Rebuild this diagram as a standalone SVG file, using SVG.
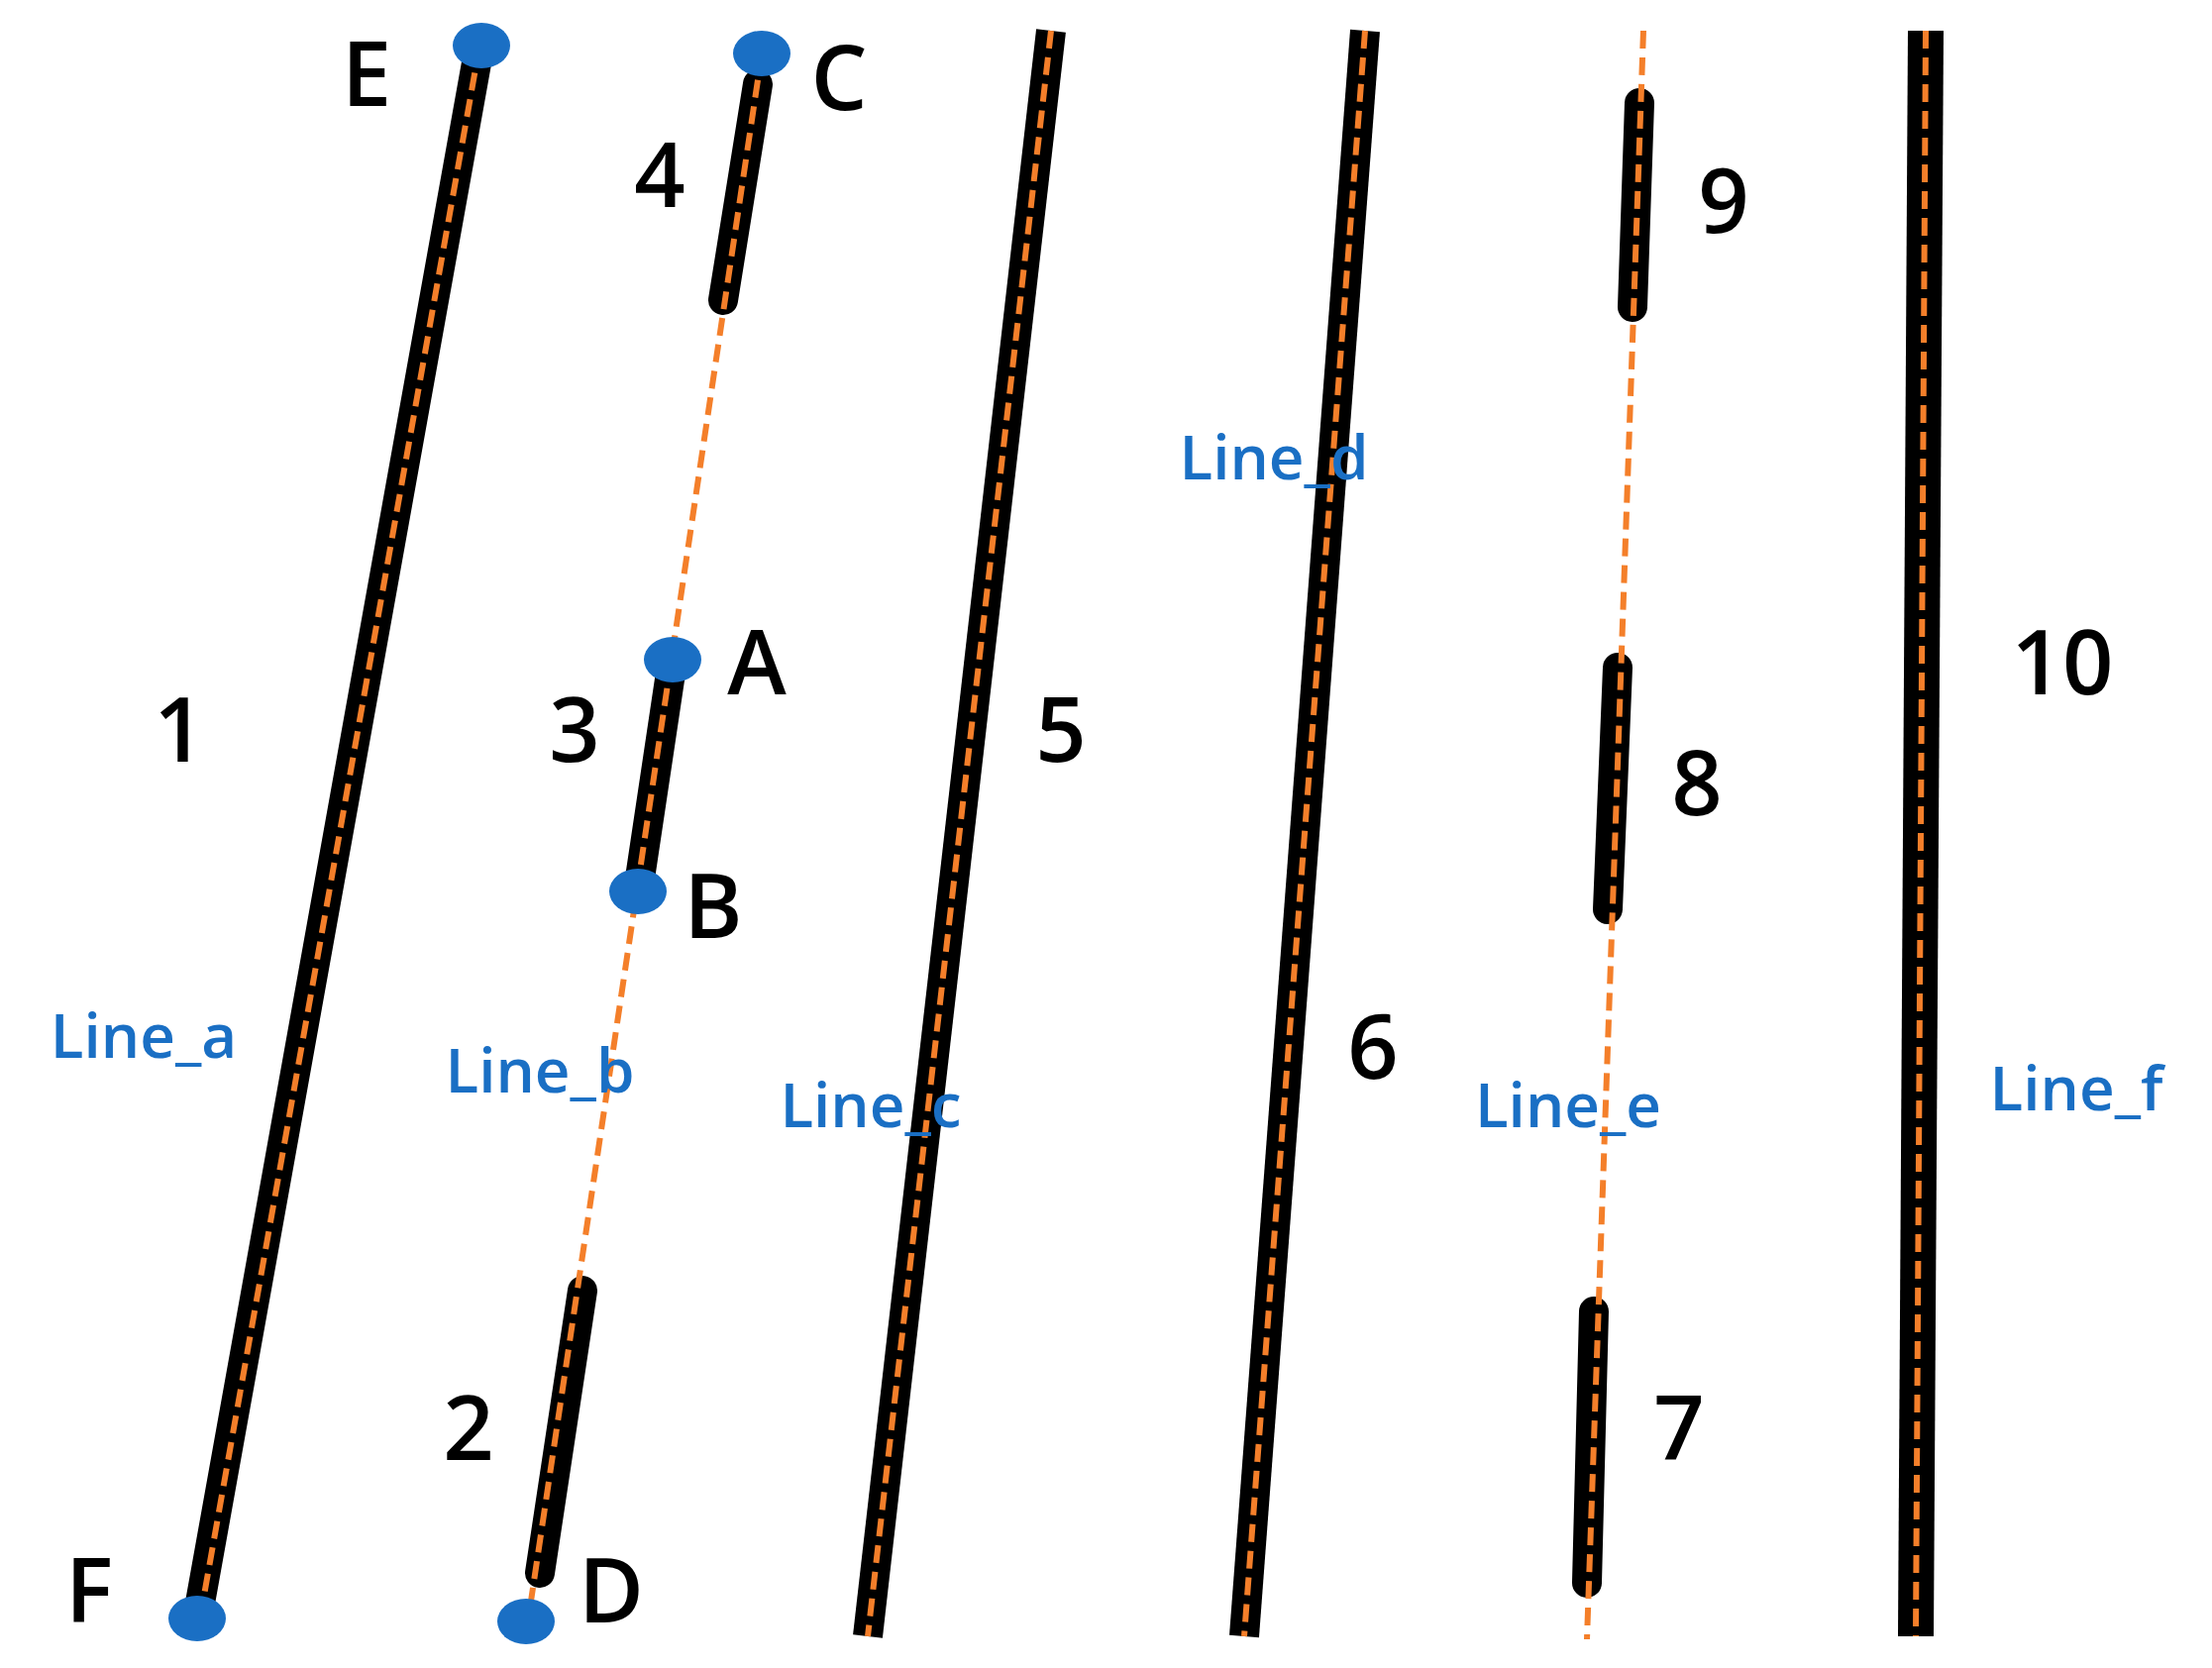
<svg xmlns="http://www.w3.org/2000/svg" width="2233" height="1684" viewBox="0 0 2233 1684">
<style>
.seg{stroke:#000;stroke-width:30;stroke-linecap:round;fill:none}
.d{stroke:#f47f2a;stroke-width:6;stroke-dasharray:18 9;fill:none}
.pt{fill:#1a6fc4}
.n{font-family:"Open Sans","Liberation Sans",sans-serif;font-size:90px;font-weight:600;fill:#000;text-anchor:middle}
.l{font-family:"Open Sans","Liberation Sans",sans-serif;font-size:62px;font-weight:600;fill:#1a6fc4;text-anchor:middle}
</style>
<rect width="2233" height="1684" fill="#fff"/>
<g id="connectors">
<line class="seg" x1="484" y1="47" x2="199" y2="1635"/>
<line class="d" x1="484" y1="47" x2="199" y2="1650"/>
<line class="seg" x1="765" y1="85" x2="730" y2="303"/>
<line class="seg" x1="679" y1="666" x2="644" y2="900"/>
<line class="seg" x1="588" y1="1303" x2="545" y2="1588"/>
<line class="d" x1="769" y1="54" x2="531" y2="1650"/>
<line class="seg" x1="1061" y1="31" x2="876" y2="1652" style="stroke-linecap:butt"/>
<line class="d" x1="1061" y1="31" x2="876" y2="1652"/>
<line class="seg" x1="1378" y1="31" x2="1256" y2="1652" style="stroke-linecap:butt"/>
<line class="d" x1="1378" y1="31" x2="1256" y2="1652"/>
<line class="seg" x1="1655" y1="104" x2="1648" y2="310"/>
<line class="seg" x1="1633" y1="674" x2="1623" y2="918"/>
<line class="seg" x1="1609" y1="1324" x2="1602" y2="1598"/>
<line class="d" x1="1659" y1="31" x2="1602" y2="1655"/>
<line class="seg" x1="1944" y1="31" x2="1934" y2="1652" style="stroke-width:36;stroke-linecap:butt"/>
<line class="d" x1="1944" y1="31" x2="1934" y2="1652"/>
</g>
<g id="points">
<ellipse class="pt" cx="486" cy="46" rx="29" ry="23"/>
<ellipse class="pt" cx="769" cy="54" rx="29" ry="23"/>
<ellipse class="pt" cx="679" cy="666" rx="29" ry="23"/>
<ellipse class="pt" cx="644" cy="900" rx="29" ry="23"/>
<ellipse class="pt" cx="199" cy="1634" rx="29" ry="23"/>
<ellipse class="pt" cx="531" cy="1637" rx="29" ry="23"/>
</g>
<g id="labels">
<text class="n" x="370" y="107">E</text>
<text class="n" x="847" y="111">C</text>
<text class="n" x="666" y="209">4</text>
<text class="n" x="181" y="769">1</text>
<text class="n" x="580" y="769">3</text>
<text class="n" x="764" y="701">A</text>
<text class="n" x="720" y="947">B</text>
<text class="n" x="1071" y="769">5</text>
<text class="n" x="473" y="1474">2</text>
<text class="n" x="90" y="1638">F</text>
<text class="n" x="617" y="1638">D</text>
<text class="n" x="1386" y="1089">6</text>
<text class="n" x="1740" y="235">9</text>
<text class="n" x="1713" y="823">8</text>
<text class="n" x="2082" y="701">10</text>
<text class="n" x="1695" y="1474">7</text>
<text class="l" x="145" y="1068">Line_a</text>
<text class="l" x="545" y="1103">Line_b</text>
<text class="l" x="879" y="1138">Line_c</text>
<text class="l" x="1286" y="484">Line_d</text>
<text class="l" x="1583" y="1138">Line_e</text>
<text class="l" x="2096" y="1121">Line_f</text>
</g>
</svg>
